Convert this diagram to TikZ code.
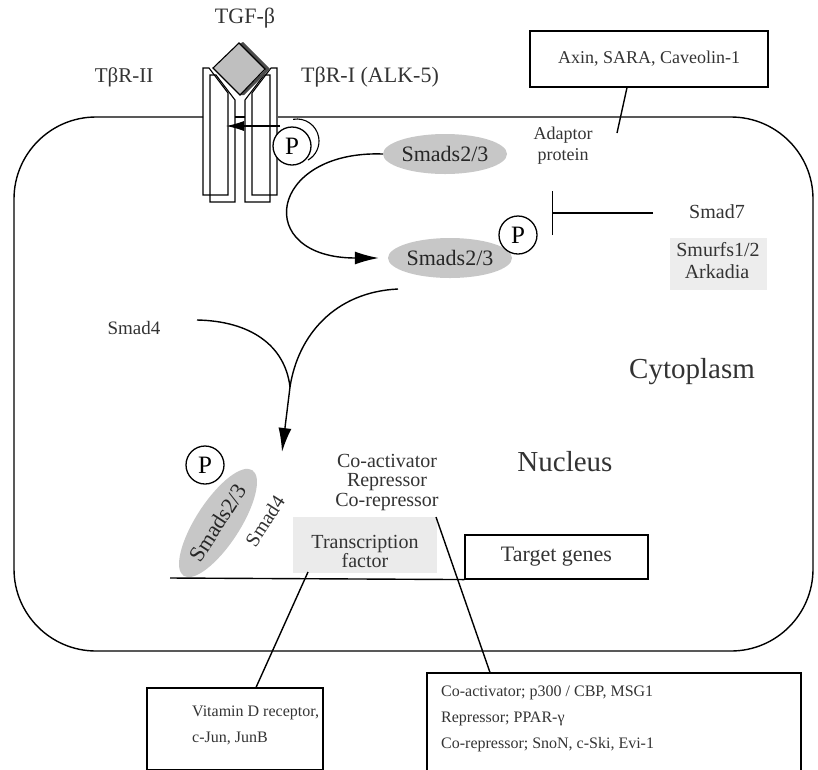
\documentclass[tikz,border=0pt]{standalone}
\usepackage{fontspec}
\setmainfont{Liberation Serif}
\usetikzlibrary{arrows.meta,shapes.geometric}
\begin{document}
\begin{tikzpicture}[x=1pt,y=-1pt,
  txt/.style={text=black!80, inner sep=0pt, align=center},
  lbl/.style={txt, font=\fontsize{22}{24}\selectfont},
  mid/.style={txt, font=\fontsize{20}{22}\selectfont},
  sml/.style={txt, font=\fontsize{18}{20}\selectfont},
  tiny/.style={txt, font=\fontsize{16}{18}\selectfont},
  big/.style={txt, font=\fontsize{29}{31}\selectfont},
  smadell/.style={ellipse, fill=black!22, minimum width=124pt, minimum height=40pt, inner sep=0pt, text=black!85, font=\fontsize{22}{24}\selectfont},
  pcirc/.style={circle, draw, line width=1.3pt, minimum size=38pt, inner sep=0pt, font=\fontsize{25}{27}\selectfont},
  ln/.style={line width=1.4pt},
  thin/.style={line width=1.1pt},
  arr/.style={ln, -{Latex[length=24pt,width=13pt]}},
  boxs/.style={draw, line width=1.1pt, inner sep=0pt}
]
\useasboundingbox (0,0) rectangle (818,769);

% cell outline (gap at the receptors)
\draw[ln, rounded corners=82pt] (203,117) -- (14,117) -- (14,651) -- (813,651) -- (813,117) -- (278,117);
\draw[thin] (235,117) -- (245,117);

% receptors
\draw[thin] (203,68) -- (209,68) -- (228,93) -- (228,195) -- (203,195) -- cycle;
\draw[thin] (210,75) -- (216,75) -- (235,100) -- (235,202) -- (210,202) -- cycle;
\draw[thin] (277,68) -- (271,68) -- (252,93) -- (252,195) -- (277,195) -- cycle;
\draw[thin] (270,75) -- (264,75) -- (245,100) -- (245,202) -- (270,202) -- cycle;

% ligand
\fill[black!70] (243,42) -- (270,69) -- (244,95) -- (240,95) -- (265,70) -- (239,44) -- cycle;
\draw[thin, fill=black!25] (239,43) -- (265,69) -- (240,95) -- (213,68) -- cycle;

% labels at membrane
\node[lbl] (tgf) at (245,18) {TGF-β};
\node[txt, font=\fontsize{21}{23}\selectfont] (tbr2) at (124,77) {TβR-II};
\node[lbl] (tbr1) at (370,77) {TβR-I (ALK-5)};

% P on receptor
\node[pcirc, fill=white] (p1) at (292,146) {P};
\draw[thin] (297,141) ++(-100:22) arc[start angle=-100, end angle=60, radius=22];
\coordinate (a1s) at (280,126);
\coordinate (a1e) at (226,126);
\draw[thin, -{Latex[length=18pt,width=10pt]}] (a1s) -- (a1e);

% Smads in cytoplasm
\node[smadell] (su) at (445,154) {Smads2/3};
\node[smadell] (sl) at (450,258) {Smads2/3};
\node[pcirc] (p2) at (518,235) {P};
\draw[arr] (su.west) .. controls (268,150) and (252,258) .. ([xshift=-9pt]sl.west);

% adaptor
\node[boxs, minimum width=238pt, minimum height=56pt] (axin) at (649,59) {};
\node[sml] at (axin.center) {Axin, SARA, Caveolin-1};
\node[sml] (adapt) at (563,135) {Adaptor};
\node[sml] (prot) at (563,156) {protein};
\coordinate (adl) at (617,133);
\draw[ln] ([xshift=-22pt]axin.south) -- (adl);

% Smad7 inhibition
\fill[black!7] (670,238) rectangle (767,290);
\node[mid] (s7) at (717,212) {Smad7};
\node[mid] (smurf) at (718,250) {Smurfs1/2};
\node[mid] (ark) at (717,272) {Arkadia};
\coordinate (s7l) at (653,213);
\coordinate (s7b) at (552,213);
\draw[ln, -{Bar[width=44pt,line width=1.4pt]}] (s7l) -- (s7b);

% Smad4 and merge
\node[txt, font=\fontsize{19}{21}\selectfont] (s4) at (134,328) {Smad4};
\coordinate (c4) at (197,320);
\coordinate (c23) at (398,289);
\coordinate (m) at (290,387);
\coordinate (mt) at (282,452);
\draw[ln] (c4) .. controls (250,321) and (285,345) .. (m);
\draw[ln] (c23) .. controls (335,292) and (298,335) .. (m);
\draw[arr] (m) -- (mt);

\node[big] (cyto) at (692,372) {Cytoplasm};
\node[big] (nuc) at (565,462) {Nucleus};

% nucleus contents
\node[pcirc] (p3) at (205,465) {P};
\node[smadell, minimum width=126pt, minimum height=44pt, rotate=57] (sn) at (218,523) {Smads2/3};
\node[mid, rotate=57] (s4n) at (265,521) {Smad4};
\node[mid] (coact) at (387,461) {Co-activator};
\node[mid] (rep) at (387,482) {Repressor};
\node[mid] (corep) at (387,502) {Co-repressor};
\fill[black!8] (293,517) rectangle (437,573);
\node[mid] (tf) at (365,551) {Transcription\\[-3pt]factor};
\node[boxs, minimum width=183pt, minimum height=44pt] (tg) at (556.5,557) {};
\node[lbl] at (tg.center) {Target genes};
\draw[ln] (170,578) -- (tg.south west);

% bottom boxes
\node[boxs, minimum width=176pt, minimum height=82pt] (vit) at (235,729) {};
\node[tiny, align=left, anchor=north west] at (192,706) {Vitamin D receptor,\\[8pt]c-Jun, JunB};
\node[boxs, minimum width=374pt, minimum height=100pt] (cob) at (614,723) {};
\node[tiny, align=left, anchor=north west] at (441,686) {Co-activator; p300 / CBP, MSG1\\[8pt]Repressor; PPAR-γ\\[8pt]Co-repressor; SnoN, c-Ski, Evi-1};

\coordinate (tfl) at (308,572);
\coordinate (crl) at (436,517);
\draw[ln] (tfl) -- ([xshift=21pt]vit.north);
\draw[ln] (crl) -- ([xshift=-124pt]cob.north);
\end{tikzpicture}
\end{document}
